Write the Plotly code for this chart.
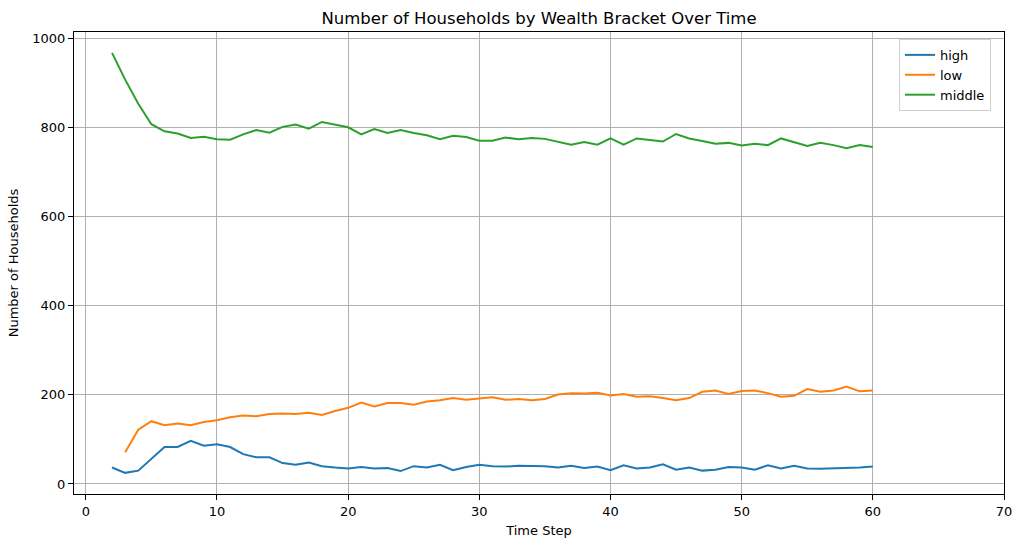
import plotly.graph_objects as go

GRID_COLOR = "#b0b0b0"
FONT = "DejaVu Sans"

time_step = list(range(2, 61))

high = [37, 25, 30, 56, 83, 83, 97, 86, 89, 83, 67, 60, 60, 47, 43, 48, 40, 37, 35, 38,
        35, 36, 29, 40, 37, 43, 31, 38, 43, 40, 39, 41, 41, 40, 37, 41, 36, 39, 31, 42,
        35, 37, 44, 32, 37, 30, 32, 38, 37, 32, 42, 35, 41, 35, 34, 35, 35, 37, 39]

low_steps = list(range(3, 61))
low = [71, 122, 141, 132, 136, 132, 139, 143, 150, 154, 152, 157, 158, 157, 160, 155, 164, 171,
       183, 174, 182, 182, 178, 185, 188, 193, 189, 192, 195, 189, 191, 188, 191, 201, 204, 203,
       205, 199, 202, 196, 197, 193, 188, 193, 207, 210, 202, 209, 210, 204, 196, 198, 213, 207,
       210, 219, 208, 210]

middle = [968, 908, 854, 808, 792, 787, 777, 780, 774, 773, 785, 795, 789, 802, 807, 798, 813,
          807, 801, 785, 797, 788, 795, 788, 783, 774, 782, 779, 771, 771, 778, 774, 777, 775,
          769, 762, 768, 762, 776, 762, 776, 773, 769, 786, 776, 770, 764, 766, 760, 764, 761,
          776, 767, 759, 766, 761, 754, 761, 757]

x_ticks = [0, 10, 20, 30, 40, 50, 60, 70]
y_ticks = [0, 200, 400, 600, 800, 1000]

fig = go.Figure()
fig.add_trace(go.Scatter(x=time_step, y=high, name="high", mode="lines",
                         line=dict(color="#1f77b4", width=2)))
fig.add_trace(go.Scatter(x=low_steps, y=low, name="low", mode="lines",
                         line=dict(color="#ff7f0e", width=2)))
fig.add_trace(go.Scatter(x=time_step, y=middle, name="middle", mode="lines",
                         line=dict(color="#2ca02c", width=2)))

fig.update_layout(
    width=1023,
    height=547,
    title=dict(text="Number of Households by Wealth Bracket Over Time",
               xref="paper", x=0.5, xanchor="center", y=0.967, yanchor="middle",
               font=dict(size=16.5, color="black", family=FONT)),
    font=dict(family=FONT, size=13, color="black"),
    plot_bgcolor="white",
    paper_bgcolor="white",
    margin=dict(l=74, r=19, t=32, b=53),
    showlegend=True,
    legend=dict(x=0.986, y=0.985, xanchor="right", yanchor="top",
                bgcolor="rgba(255,255,255,0.8)", bordercolor="#d0d0d0", borderwidth=1,
                font=dict(size=13), tracegroupgap=0),
)

fig.update_xaxes(
    title=dict(text="Time Step", standoff=8, font=dict(size=13)),
    range=[-0.9, 70],
    tickvals=x_ticks,
    showgrid=True, gridcolor=GRID_COLOR, gridwidth=1,
    zeroline=False,
    showline=True, linecolor="black", linewidth=1.2, mirror=True,
    ticks="outside", ticklen=5, tickcolor="black", tickwidth=1.2,
)
fig.update_yaxes(
    title=dict(text="Number of Households", standoff=10, font=dict(size=13)),
    range=[-22.5, 1015],
    tickvals=y_ticks,
    showgrid=True, gridcolor=GRID_COLOR, gridwidth=1,
    zeroline=False,
    showline=True, linecolor="black", linewidth=1.2, mirror=True,
    ticks="outside", ticklen=5, tickcolor="black", tickwidth=1.2,
)

# drop the default body margin so the figure sits exactly in the window
fig.write_html("out.html",
               config={"displayModeBar": False},
               post_script="document.body.style.margin='0';document.body.style.overflow='hidden';")
